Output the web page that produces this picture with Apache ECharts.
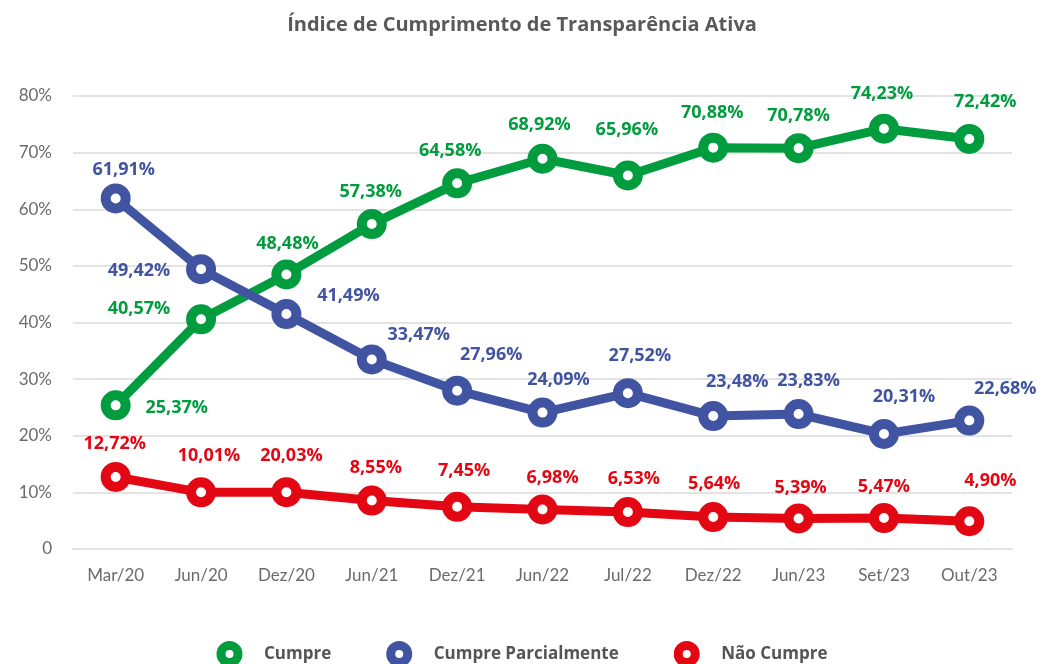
<!DOCTYPE html>
<html>
<head>
<meta charset="utf-8">
<script src="https://cdn.jsdelivr.net/npm/echarts@6/dist/echarts.min.js"></script>
<style>
  html, body { margin: 0; padding: 0; background: #fff; }
  #chart { width: 1044px; height: 664px; }
</style>
</head>
<body>
<div id="chart"></div>
<script>
var categories = ['Mar/20', 'Jun/20', 'Dez/20', 'Jun/21', 'Dez/21', 'Jun/22', 'Jul/22', 'Dez/22', 'Jun/23', 'Set/23', 'Out/23']
var cumpre = [25.37, 40.57, 48.48, 57.38, 64.58, 68.92, 65.96, 70.88, 70.78, 74.23, 72.42]
var parcial = [61.91, 49.42, 41.49, 33.47, 27.96, 24.09, 27.52, 23.48, 23.83, 20.31, 22.68]
var naoCumpre = [12.72, 10.01, 10.03, 8.55, 7.45, 6.98, 6.53, 5.64, 5.39, 5.47, 4.90]
// texto dos rótulos do "Não Cumpre" como aparece no gráfico
var naoCumpreLabels = ['12,72%', '10,01%', '20,03%', '8,55%', '7,45%', '6,98%', '6,53%', '5,64%', '5,39%', '5,47%', '4,90%']
var yTicks = [0, 10, 20, 30, 40, 50, 60, 70, 80]

var GREEN = '#009C3D', BLUE = '#4154A2', RED = '#E30613'
var FONT = 'Open Sans'
var AXIS_FONT = 'Lato'

// deslocamento dos rótulos em relação ao ponto (layout)
var greenOff = [[61, 3], [-62, -10], [1, -31], [-1, -32], [-7, -32], [-3, -34], [-1, -46], [-1, -35], [0, -32], [-2, -35], [16, -37]]
var blueOff = [[8, -29], [-62, 2], [62, -18], [47, -25], [34, -36], [16, -33], [12, -37], [24, -34], [10, -33], [20, -37], [36, -32]]
var redOff = [[-1, -33], [8, -36], [5, -36], [4, -33], [7, -36], [10, -32], [6, -33], [1, -33], [2, -31], [0, -31], [21, -40]]

function fmt(v) {
    return v.toFixed(2).replace('.', ',') + '%'
}

function buildData(values, offsets, color, labels) {
    return values.map(function (v, i) {
        return {
            value: v,
            label: {
                show: true,
                position: 'inside',
                offset: offsets[i],
                color: color,
                fontFamily: FONT,
                fontWeight: 'bold',
                fontSize: 18,
                formatter: labels ? labels[i] : fmt(v)
            }
        }
    })
}

function makeSeries(name, values, offsets, color, labels) {
    return {
        name: name,
        type: 'line',
        data: buildData(values, offsets, color, labels),
        symbol: 'circle',
        symbolSize: 20,
        lineStyle: { color: color, width: 9 },
        itemStyle: { color: '#fff', borderColor: color, borderWidth: 10 },
        emphasis: { disabled: true },
        animation: false
    }
}

var chart = echarts.init(document.getElementById('chart'))
chart.setOption({
    backgroundColor: '#fff',
    title: {
        text: 'Índice de Cumprimento de Transparência Ativa',
        left: 'center',
        top: 10,
        textStyle: { color: '#595959', fontFamily: FONT, fontWeight: 'bold', fontSize: 20 }
    },
    legend: {
        top: 641,
        left: 'center',
        padding: 0,
        itemWidth: 17,
        itemHeight: 17,
        itemGap: 55,
        selectedMode: false,
        textStyle: { color: '#555', fontFamily: FONT, fontWeight: 'bold', fontSize: 17, padding: [0, 0, 0, 21] },
        data: [
            { name: 'Cumpre', icon: 'circle', itemStyle: { color: '#fff', borderColor: GREEN, borderWidth: 9 } },
            { name: 'Cumpre Parcialmente', icon: 'circle', itemStyle: { color: '#fff', borderColor: BLUE, borderWidth: 9 } },
            { name: 'Não Cumpre', icon: 'circle', itemStyle: { color: '#fff', borderColor: RED, borderWidth: 9 } }
        ]
    },
    grid: { left: 73, right: 32, top: 96, bottom: 115 },
    xAxis: {
        type: 'category',
        data: categories,
        boundaryGap: true,
        axisLine: { lineStyle: { color: '#e3e3e3', width: 2 } },
        axisTick: { show: false },
        axisLabel: { color: '#6b6b6b', fontFamily: AXIS_FONT, fontSize: 17, margin: 18 }
    },
    yAxis: {
        type: 'value',
        min: yTicks[0],
        max: yTicks[yTicks.length - 1],
        interval: 10,
        axisLine: { show: false },
        axisTick: { show: false },
        splitLine: { lineStyle: { color: '#e3e3e3', width: 2 } },
        axisLabel: {
            color: '#6b6b6b', fontFamily: AXIS_FONT, fontSize: 17, margin: 21,
            formatter: function (v) { return v === 0 ? '0' : v + '%' }
        }
    },
    series: [
        makeSeries('Cumpre', cumpre, greenOff, GREEN),
        makeSeries('Cumpre Parcialmente', parcial, blueOff, BLUE),
        makeSeries('Não Cumpre', naoCumpre, redOff, RED, naoCumpreLabels)
    ]
})
</script>
</body>
</html>
